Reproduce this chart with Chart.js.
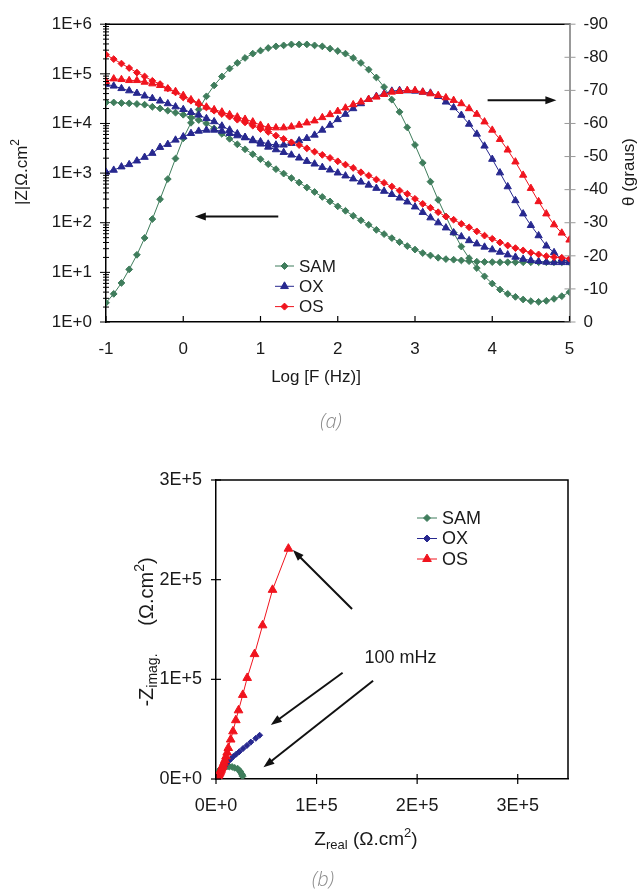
<!DOCTYPE html>
<html>
<head>
<meta charset="utf-8">
<script src="https://cdn.jsdelivr.net/npm/chart.js@4/dist/chart.umd.min.js"></script>
<style>
html, body { margin: 0; padding: 0; background: #fff; }
#wrap { position: relative; width: 639px; height: 892px; }
#c1 { position: absolute; left: 0; top: 0; }
#c2 { position: absolute; left: 0; top: 440px; }
</style>
</head>
<body>
<div id="wrap">
  <canvas id="c1" width="639" height="440"></canvas>
  <canvas id="c2" width="639" height="452"></canvas>
</div>
<script>
// ---- (a) Bode data: log frequency, |Z| (ohm.cm2) and phase (degrees) ----
const logF = [-1, -0.9, -0.8, -0.7, -0.6, -0.5, -0.4, -0.3, -0.2, -0.1, 0, 0.1, 0.2, 0.3, 0.4, 0.5, 0.6, 0.7, 0.8, 0.9,
  1, 1.1, 1.2, 1.3, 1.4, 1.5, 1.6, 1.7, 1.8, 1.9, 2, 2.1, 2.2, 2.3, 2.4, 2.5, 2.6, 2.7, 2.8, 2.9,
  3, 3.1, 3.2, 3.3, 3.4, 3.5, 3.6, 3.7, 3.8, 3.9, 4, 4.1, 4.2, 4.3, 4.4, 4.5, 4.6, 4.7, 4.8, 4.9, 5];

const samModZ = [26500, 26500, 25800, 25400, 24700, 23900, 21700, 20100, 18100, 16500,
  15000, 13200, 11700, 10000, 7940, 6170, 4900, 3800, 3020, 2400,
  1905, 1510, 1200, 977, 794, 646, 513, 417, 331, 269,
  214, 174, 138, 112, 91, 72, 59, 49, 40.7, 33.9,
  28.8, 24.5, 21.9, 19.7, 18.5, 18.0, 17.4, 16.8, 16.4, 16.2,
  16.1, 16.0, 16.0, 16.0, 16.0, 16.0, 16.0, 16.0, 16.0, 16.0, 16.0];
const samPhase = [-5.8, -8.5, -11.8, -15.9, -20.3, -25.4, -31.1, -37.1, -43.2, -49.4,
  -55.5, -60.2, -64.2, -68.2, -71.5, -74.2, -76.6, -78.3, -79.8, -81.1,
  -82.0, -82.8, -83.3, -83.6, -83.9, -83.9, -83.9, -83.6, -83.3, -82.6,
  -81.9, -81.1, -79.8, -78.3, -76.3, -73.9, -71.0, -67.2, -63.5, -58.8,
  -53.5, -48.1, -42.4, -36.9, -31.9, -27.0, -22.8, -19.3, -16.3, -13.8,
  -11.6, -9.8, -8.5, -7.6, -6.8, -6.3, -6.1, -6.4, -7.0, -7.8, -9.0];

const oxModZ = [61700, 56900, 50700, 45700, 40700, 35900, 32000, 28400, 25100, 21700,
  19200, 16700, 14800, 12600, 10900, 8900, 7410, 6240, 5270, 4510,
  3860, 3350, 2970, 2620, 2320, 2020, 1730, 1530, 1310, 1160,
  1010, 881, 767, 661, 575, 495, 432, 372, 316, 263,
  209, 162, 126, 100, 79, 63, 52.5, 43.7, 37.6, 32.4,
  28.6, 25.6, 22.6, 20.3, 18.5, 17.4, 16.6, 16.1, 15.8, 15.8, 15.8];
const oxPhase = [-45.3, -45.9, -46.9, -47.6, -48.7, -49.8, -51.0, -52.8, -53.7, -55.0,
  -56.0, -57.0, -57.7, -58.0, -58.0, -57.7, -57.0, -56.3, -55.7, -55.0,
  -54.5, -53.8, -53.5, -53.5, -54.0, -54.8, -55.5, -56.5, -58.0, -59.5,
  -61.2, -62.8, -64.5, -66.0, -67.3, -68.2, -69.0, -69.8, -70.0, -69.9,
  -69.8, -69.5, -69.2, -68.2, -66.5, -64.8, -62.5, -59.8, -56.8, -53.2,
  -49.2, -45.1, -40.9, -36.7, -32.7, -29.2, -26.1, -23.0, -21.0, -19.0, -18.3];

const osModZ = [242000, 198000, 161000, 131000, 106000, 88500, 72400, 62200, 50700, 42200,
  33400, 28700, 24700, 21000, 18100, 15500, 13700, 11900, 10500, 9020,
  7740, 6760, 5680, 4880, 4170, 3670, 3160, 2700, 2330, 2020,
  1730, 1480, 1270, 1040, 891, 741, 635, 536, 445, 382,
  303, 240, 200, 163, 133, 115, 95, 81, 67, 55,
  47.5, 40.1, 34.8, 30.8, 27.7, 24.9, 23.0, 21.2, 20.3, 19.7, 18.8];
const osPhase = [-72.7, -73.5, -73.3, -73.0, -73.0, -72.5, -72.0, -71.5, -70.5, -69.7,
  -68.5, -67.2, -66.2, -65.0, -64.2, -63.5, -62.7, -62.0, -61.3, -60.5,
  -59.5, -58.8, -58.7, -58.7, -59.0, -59.5, -60.2, -60.8, -61.8, -62.7,
  -63.7, -64.7, -65.7, -66.5, -67.3, -68.0, -68.8, -69.5, -69.7, -70.0,
  -70.0, -69.5, -69.0, -68.5, -67.8, -67.0, -66.0, -64.5, -62.8, -60.5,
  -58.0, -55.2, -52.0, -48.4, -44.4, -40.4, -36.4, -32.7, -29.4, -26.9, -24.8];

const zTicks = [1, 10, 100, 1000, 10000, 100000, 1000000];
const zTickLabels = ['1E+0', '1E+1', '1E+2', '1E+3', '1E+4', '1E+5', '1E+6'];

// ---- (b) Nyquist data (ohm.cm2) ----
const osZreal = [72000, 56200, 46300, 38300, 31000, 26600, 22400, 19700, 16900, 14600,
  12200, 11100, 9970, 8870, 7880, 6920, 6280, 5590, 5040, 4440,
  3930, 3500, 2950, 2540, 2150, 1860, 1570, 1320, 1100, 926, 767, 17];
const osZimag = [231100, 189800, 154200, 125300, 101400, 84400, 68900, 59000, 47800, 39600,
  31100, 26500, 22600, 19000, 16300, 13900, 12200, 10500, 9210, 7850,
  6670, 5780, 4850, 4170, 3570, 3160, 2740, 2360, 2050, 1790, 1550, 8];
const oxZreal = [43400, 39600, 34600, 30800, 26900, 23200, 20100, 17200, 14900, 12400,
  10700, 9100, 7910, 6680, 5780, 4760, 4040, 3460, 2970, 2590,
  2240, 1980, 1770, 1560, 1360, 1160, 980, 844, 694, 589, 487, 16];
const oxZimag = [43900, 40800, 37000, 33700, 30600, 27400, 24900, 22600, 20200, 17800,
  15900, 14000, 12500, 10700, 9240, 7520, 6210, 5190, 4350, 3690,
  3140, 2700, 2390, 2110, 1880, 1650, 1430, 1280, 1110, 1000, 885, 5];
const samZreal = [26400, 26200, 25300, 24400, 23200, 21600, 18600, 16000, 13200, 10700,
  8500, 6560, 5090, 3710, 2520, 1680, 1140, 771, 535, 371,
  265, 189, 140, 109, 84, 69, 16];
const samZimag = [2680, 3920, 5280, 6960, 8570, 10300, 11200, 12100, 12400, 12500,
  12400, 11500, 10500, 9290, 7530, 5940, 4770, 3720, 2970, 2370,
  1890, 1500, 1190, 971, 790, 642, 2];

const nyqTicks = [0, 100000, 200000, 300000];
const nyqTickLabels = ['0E+0', '1E+5', '2E+5', '3E+5'];

const GREEN = '#3f7d5c';
const BLUE = '#27288f';
const RED = '#f0141e';
const FONT = '"Liberation Sans", Arial, sans-serif';
const INK = '#1a1a1a';

function arrow(ctx, x1, y1, x2, y2) {
  const a = Math.atan2(y2 - y1, x2 - x1), L = 11, W = 4;
  ctx.save();
  ctx.strokeStyle = '#111';
  ctx.fillStyle = '#111';
  ctx.lineWidth = 2;
  ctx.beginPath();
  ctx.moveTo(x1, y1);
  ctx.lineTo(x2 - L * 0.7 * Math.cos(a), y2 - L * 0.7 * Math.sin(a));
  ctx.stroke();
  ctx.beginPath();
  ctx.moveTo(x2, y2);
  ctx.lineTo(x2 - L * Math.cos(a) + W * Math.sin(a), y2 - L * Math.sin(a) - W * Math.cos(a));
  ctx.lineTo(x2 - L * Math.cos(a) - W * Math.sin(a), y2 - L * Math.sin(a) + W * Math.cos(a));
  ctx.closePath();
  ctx.fill();
  ctx.restore();
}

// text with sub/superscripts, centred on (x, y)
function rich(ctx, parts, x, y, size, rot) {
  ctx.save();
  ctx.translate(x, y);
  if (rot) ctx.rotate(rot);
  ctx.textBaseline = 'middle';
  ctx.textAlign = 'left';
  ctx.fillStyle = INK;
  const fontOf = p => ((p.sub || p.sup) ? Math.round(size * 0.68) : size) + 'px ' + FONT;
  let w = 0;
  parts.forEach(p => { ctx.font = fontOf(p); w += ctx.measureText(p.t).width; });
  let cx = -w / 2;
  parts.forEach(p => {
    ctx.font = fontOf(p);
    const dy = p.sub ? size * 0.3 : (p.sup ? -size * 0.35 : 0);
    ctx.fillText(p.t, cx, dy);
    cx += ctx.measureText(p.t).width;
  });
  ctx.restore();
}

function legend(ctx, x, y, rows, lineLen, size, gap) {
  rows.forEach((r, i) => {
    const yy = y + i * gap;
    ctx.save();
    ctx.strokeStyle = r.color;
    ctx.fillStyle = r.color;
    ctx.lineWidth = 1;
    ctx.beginPath();
    ctx.moveTo(x, yy);
    ctx.lineTo(x + lineLen, yy);
    ctx.stroke();
    Chart.helpers.drawPoint(ctx, { pointStyle: r.style, radius: r.radius, borderWidth: 1, rotation: 0 }, x + lineLen / 2, yy);
    ctx.fillStyle = INK;
    ctx.font = size + 'px ' + FONT;
    ctx.textBaseline = 'middle';
    ctx.fillText(r.label, x + lineLen + 5, yy + 1);
    ctx.restore();
  });
}

const bodeDecor = {
  id: 'bodeDecor',
  afterDraw(chart) {
    const { ctx, chartArea: a, scales } = chart;
    const { x, y, y2 } = scales;
    ctx.save();
    // top frame line
    ctx.strokeStyle = '#000';
    ctx.lineWidth = 1.5;
    ctx.beginPath();
    ctx.moveTo(a.left, a.top);
    ctx.lineTo(a.right, a.top);
    ctx.stroke();
    // x ticks pointing inward
    ctx.lineWidth = 1.2;
    for (let v = -1; v <= 5; v++) {
      const px = x.getPixelForValue(v);
      ctx.beginPath(); ctx.moveTo(px, a.bottom); ctx.lineTo(px, a.bottom - 6); ctx.stroke();
    }
    // log ticks on the left axis
    ctx.lineWidth = 1;
    zTicks.forEach(t => {
      const py = y.getPixelForValue(t);
      ctx.beginPath(); ctx.moveTo(a.left - 6, py); ctx.lineTo(a.left + 4, py); ctx.stroke();
      if (t < 1e6) {
        for (let s = 2; s <= 9; s++) {
          const pm = y.getPixelForValue(s * t);
          ctx.beginPath(); ctx.moveTo(a.left - 3, pm); ctx.lineTo(a.left + 3, pm); ctx.stroke();
        }
      }
    });
    // right axis ticks
    ctx.strokeStyle = '#999';
    for (let v = -90; v <= 0; v += 10) {
      const py = y2.getPixelForValue(v);
      ctx.beginPath(); ctx.moveTo(a.right - 5, py); ctx.lineTo(a.right + 6, py); ctx.stroke();
    }
    ctx.restore();

    // arrows (data coordinates)
    arrow(ctx, x.getPixelForValue(1.23), y.getPixelForValue(133), x.getPixelForValue(0.15), y.getPixelForValue(133));
    arrow(ctx, x.getPixelForValue(3.94), y2.getPixelForValue(-67), x.getPixelForValue(4.83), y2.getPixelForValue(-67));

    // axis titles
    rich(ctx, [{ t: '|Z|Ω.cm' }, { t: '2', sup: true }], 22, 172, 17, -Math.PI / 2);
    rich(ctx, [{ t: 'θ (graus)' }], 629, 172, 17, -Math.PI / 2);
    rich(ctx, [{ t: 'Log [F (Hz)]' }], 316, 377, 17, 0);

    legend(ctx, 275, 266, [
      { label: 'SAM', color: GREEN, style: 'rectRot', radius: 3.5 },
      { label: 'OX', color: BLUE, style: 'triangle', radius: 4.5 },
      { label: 'OS', color: RED, style: 'rectRot', radius: 3.5 }
    ], 19, 17, 20.3);

    ctx.save();
    ctx.fillStyle = '#8a8a8a';
    ctx.font = 'italic 300 20px "Open Sans", ' + FONT;
    ctx.textAlign = 'center';
    ctx.textBaseline = 'middle';
    ctx.fillText('(a)', 331, 422);
    ctx.restore();
  }
};

const nyqDecor = {
  id: 'nyqDecor',
  afterDraw(chart) {
    const { ctx, chartArea: a, scales } = chart;
    const { x, y } = scales;
    ctx.save();
    ctx.strokeStyle = '#000';
    ctx.lineWidth = 1.5;
    ctx.beginPath();
    ctx.moveTo(a.left, a.top); ctx.lineTo(a.right, a.top); ctx.lineTo(a.right, a.bottom);
    ctx.stroke();
    ctx.lineWidth = 1.2;
    nyqTicks.forEach(v => {
      const px = x.getPixelForValue(v);
      ctx.beginPath(); ctx.moveTo(px, a.bottom - 5); ctx.lineTo(px, a.bottom + 5); ctx.stroke();
      const py = y.getPixelForValue(v);
      ctx.beginPath(); ctx.moveTo(a.left - 5, py); ctx.lineTo(a.left + 5, py); ctx.stroke();
    });
    ctx.restore();

    arrow(ctx, x.getPixelForValue(135300), y.getPixelForValue(170500), x.getPixelForValue(76500), y.getPixelForValue(229700));
    arrow(ctx, x.getPixelForValue(125900), y.getPixelForValue(106600), x.getPixelForValue(54500), y.getPixelForValue(54200));
    arrow(ctx, x.getPixelForValue(156200), y.getPixelForValue(98600), x.getPixelForValue(47200), y.getPixelForValue(11700));

    ctx.save();
    ctx.fillStyle = INK;
    ctx.font = '18px ' + FONT;
    ctx.textAlign = 'center';
    ctx.textBaseline = 'middle';
    ctx.fillText('100 mHz', x.getPixelForValue(183500), y.getPixelForValue(121000));
    ctx.restore();

    rich(ctx, [{ t: '-Z' }, { t: 'imag.', sub: true }, { t: '     (Ω.cm' }, { t: '2', sup: true }, { t: ')' }], 147, 192, 20, -Math.PI / 2);
    rich(ctx, [{ t: 'Z' }, { t: 'real', sub: true }, { t: ' (Ω.cm' }, { t: '2', sup: true }, { t: ')' }], 366, 400, 19, 0);

    legend(ctx, 417, 78, [
      { label: 'SAM', color: GREEN, style: 'rectRot', radius: 3.5 },
      { label: 'OX', color: BLUE, style: 'rectRot', radius: 3.5 },
      { label: 'OS', color: RED, style: 'triangle', radius: 5 }
    ], 20, 18, 20.5);

    ctx.save();
    ctx.fillStyle = '#8a8a8a';
    ctx.font = 'italic 300 20px "Open Sans", ' + FONT;
    ctx.textAlign = 'center';
    ctx.textBaseline = 'middle';
    ctx.fillText('(b)', 323, 440);
    ctx.restore();
  }
};

const bodeSet = (label, values, axis, color, style, radius) => ({
  label: label,
  data: logF.map((f, i) => ({ x: f, y: values[i] })),
  yAxisID: axis,
  borderColor: color,
  backgroundColor: color,
  borderWidth: 1,
  pointStyle: style,
  pointRadius: radius,
  pointBorderWidth: 1,
  pointBorderColor: color,
  pointBackgroundColor: color
});

new Chart(document.getElementById('c1'), {
  type: 'line',
  data: {
    datasets: [
      bodeSet('OS', osPhase, 'y2', RED, 'triangle', 4.2),
      bodeSet('OS', osModZ, 'y', RED, 'rectRot', 3.4),
      bodeSet('OX', oxPhase, 'y2', BLUE, 'triangle', 4.2),
      bodeSet('OX', oxModZ, 'y', BLUE, 'triangle', 4.2),
      bodeSet('SAM', samPhase, 'y2', GREEN, 'rectRot', 3.4),
      bodeSet('SAM', samModZ, 'y', GREEN, 'rectRot', 3.4)
    ]
  },
  options: {
    responsive: false,
    animation: false,
    layout: { padding: { top: 23, left: 0, right: 0, bottom: 0 } },
    plugins: { legend: { display: false }, tooltip: { enabled: false } },
    scales: {
      x: {
        type: 'linear', min: -1, max: 5,
        ticks: { stepSize: 1, padding: 17, color: INK, font: { family: FONT, size: 17 } },
        grid: { display: false, drawTicks: false },
        border: { color: '#000', width: 1.5 },
        afterFit: s => { s.height = 118; }
      },
      y: {
        type: 'logarithmic', position: 'left', min: 1, max: 1e6,
        afterBuildTicks: s => { s.ticks = zTicks.map(v => ({ value: v })); },
        ticks: { callback: (v, i) => zTickLabels[i], padding: 14, color: INK, font: { family: FONT, size: 17 } },
        grid: { display: false, drawTicks: false },
        border: { color: '#000', width: 1.5 },
        afterFit: s => { s.width = 106; }
      },
      y2: {
        type: 'linear', position: 'right', min: -90, max: 0, reverse: true,
        ticks: { stepSize: 10, padding: 14, color: INK, font: { family: FONT, size: 17 } },
        grid: { display: false, drawTicks: false },
        border: { color: '#999', width: 2 },
        afterFit: s => { s.width = 69.5; }
      }
    }
  },
  plugins: [bodeDecor]
});

const nyqSet = (label, xs, ys, color, style, radius) => ({
  label: label,
  data: xs.map((v, i) => ({ x: v, y: ys[i] })),
  showLine: true,
  borderColor: color,
  backgroundColor: color,
  borderWidth: 1,
  pointStyle: style,
  pointRadius: radius,
  pointBorderWidth: 1,
  pointBorderColor: color,
  pointBackgroundColor: color
});

new Chart(document.getElementById('c2'), {
  type: 'scatter',
  data: {
    datasets: [
      nyqSet('OS', osZreal, osZimag, RED, 'triangle', 5),
      nyqSet('OX', oxZreal, oxZimag, BLUE, 'rectRot', 3),
      nyqSet('SAM', samZreal, samZimag, GREEN, 'rectRot', 3.4)
    ]
  },
  options: {
    responsive: false,
    animation: false,
    layout: { padding: { top: 40, left: 0, right: 71, bottom: 0 } },
    plugins: { legend: { display: false }, tooltip: { enabled: false } },
    scales: {
      x: {
        type: 'linear', min: 0, max: 350000,
        afterBuildTicks: s => { s.ticks = nyqTicks.map(v => ({ value: v })); },
        ticks: { callback: (v, i) => nyqTickLabels[i], padding: 16, color: INK, font: { family: FONT, size: 18 } },
        grid: { display: false, drawTicks: false },
        border: { color: '#000', width: 1.5 },
        afterFit: s => { s.height = 113; }
      },
      y: {
        type: 'linear', min: 0, max: 300000,
        afterBuildTicks: s => { s.ticks = nyqTicks.map(v => ({ value: v })); },
        ticks: { callback: (v, i) => nyqTickLabels[i], padding: 14, color: INK, font: { family: FONT, size: 18 } },
        grid: { display: false, drawTicks: false },
        border: { color: '#000', width: 1.5 },
        afterFit: s => { s.width = 216; }
      }
    }
  },
  plugins: [nyqDecor]
});
</script>
</body>
</html>
